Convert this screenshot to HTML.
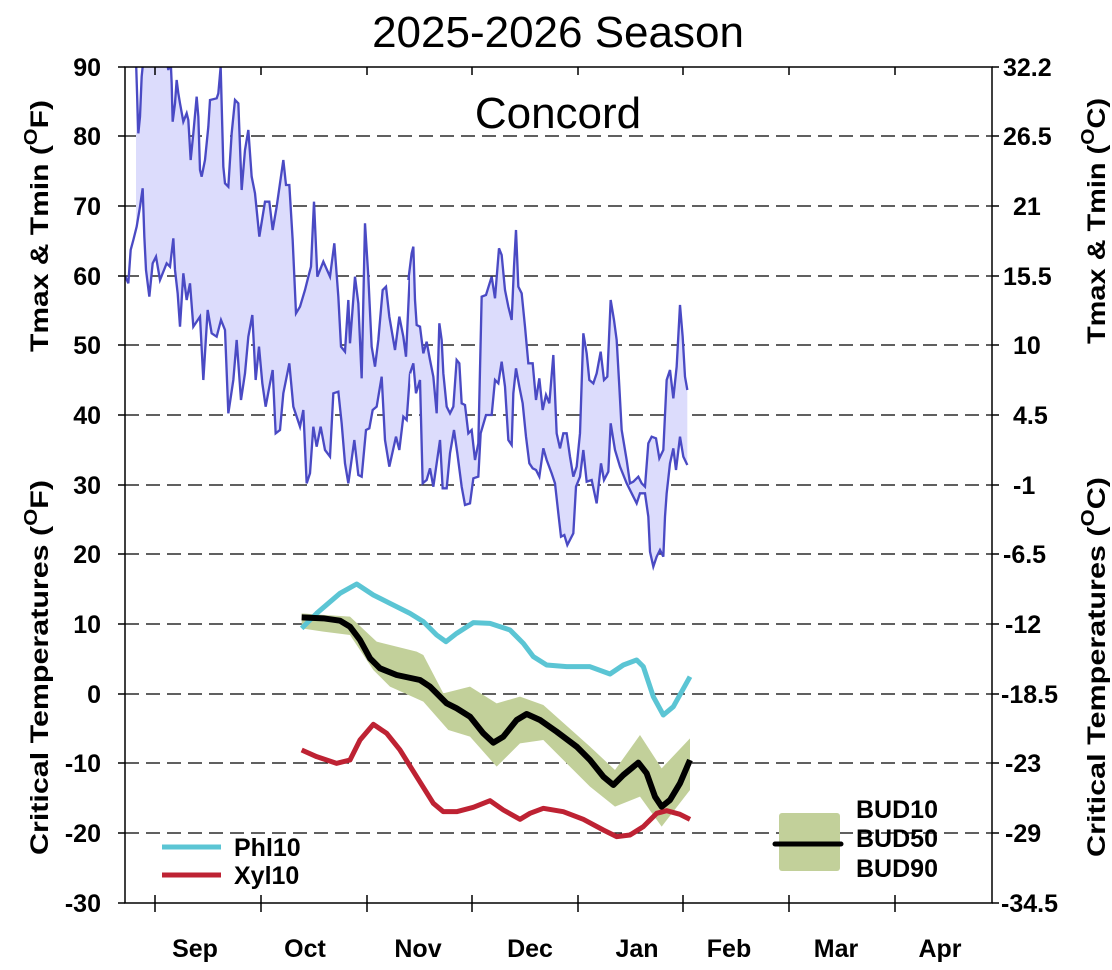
<!DOCTYPE html>
<html><head><meta charset="utf-8"><style>
html,body{margin:0;padding:0;background:#fff;}
svg{display:block;font-family:"Liberation Sans",Arial,sans-serif;}
.t{font-weight:bold;font-size:25px;}
</style></head><body>
<svg width="1112" height="970" viewBox="0 0 1112 970" xmlns="http://www.w3.org/2000/svg">
<rect width="1112" height="970" fill="#fff"/>
<g stroke="#000" stroke-width="1.3" stroke-dasharray="14,7">
<line x1="125" x2="992" y1="136" y2="136"/><line x1="125" x2="992" y1="206" y2="206"/>
<line x1="125" x2="992" y1="276" y2="276"/><line x1="125" x2="992" y1="345" y2="345"/>
<line x1="125" x2="992" y1="415" y2="415"/><line x1="125" x2="992" y1="485" y2="485"/>
<line x1="125" x2="992" y1="554" y2="554"/><line x1="125" x2="992" y1="624" y2="624"/>
<line x1="125" x2="992" y1="694" y2="694"/><line x1="125" x2="992" y1="763" y2="763"/>
<line x1="125" x2="992" y1="833" y2="833"/>
</g>
<defs><clipPath id="pc"><rect x="125" y="67" width="867" height="836"/></clipPath></defs>
<g clip-path="url(#pc)">
<g transform="translate(110,50) scale(0.33333)">
<polygon fill="#dcdcfc" stroke="none" points="78,30 85,250 90,200 95,80 100,30 170,30 175,60 182,30 185,100 188,215 195,160 200,90 205,130 210,160 220,215 230,190 235,210 242,330 250,250 260,140 265,200 270,360 275,380 285,330 295,230 300,150 320,145 325,130 332,50 340,350 345,400 355,410 365,250 375,150 385,160 395,420 405,300 415,240 425,380 435,430 448,560 465,455 478,455 488,540 500,470 510,400 520,330 528,405 538,405 548,570 558,790 570,770 585,720 595,680 603,650 612,455 622,680 640,635 660,680 673,580 685,740 693,890 705,905 715,750 720,880 735,680 745,760 755,985 765,520 775,680 785,890 795,950 805,870 818,720 828,710 838,800 855,900 868,800 880,860 888,920 900,660 900,970 890,1110 880,1100 868,1200 858,1160 838,1250 825,1170 815,980 800,1070 788,1080 778,1135 768,1140 755,1280 745,1275 733,1170 715,1300 705,1240 695,1120 685,1025 670,1030 660,1220 645,1200 632,1130 620,1190 610,1130 600,1270 590,1300 580,1080 570,1130 550,1070 538,940 520,1030 510,1140 497,1150 488,960 480,1000 467,1070 457,1000 447,890 437,990 427,795 415,860 405,970 393,1050 380,870 370,990 355,1090 345,840 333,810 320,860 305,850 293,780 280,990 270,800 250,830 240,700 230,750 220,670 210,830 203,730 195,660 190,565 180,650 170,640 150,690 138,620 128,640 118,740 108,660 103,560 98,415 90,470 80,530 78,540"/>
<polyline fill="none" stroke="#4a4ac4" stroke-width="7" points="78,30 85,250 90,200 95,80 100,30 170,30 175,60 182,30 185,100 188,215 195,160 200,90 205,130 210,160 220,215 230,190 235,210 242,330 250,250 260,140 265,200 270,360 275,380 285,330 295,230 300,150 320,145 325,130 332,50 340,350 345,400 355,410 365,250 375,150 385,160 395,420 405,300 415,240 425,380 435,430 448,560 465,455 478,455 488,540 500,470 510,400 520,330 528,405 538,405 548,570 558,790 570,770 585,720 595,680 603,650 612,455 622,680 640,635 660,680 673,580 685,740 693,890 705,905 715,750 720,880 735,680 745,760 755,985 765,520 775,680 785,890 795,950 805,870 818,720 828,710 838,800 855,900 868,800 880,860 888,920 900,660"/>
<polyline fill="none" stroke="#4a4ac4" stroke-width="7" points="46,680 55,700 62,600 70,570 80,530 90,470 98,415 103,560 108,660 118,740 128,640 138,620 150,690 170,640 180,650 190,565 195,660 203,730 210,830 220,670 230,750 240,700 250,830 270,800 280,990 293,780 305,850 320,860 333,810 345,840 355,1090 370,990 380,870 393,1050 405,970 415,860 427,795 437,990 447,890 457,1000 467,1070 480,1000 488,960 497,1150 510,1140 520,1030 538,940 550,1070 570,1130 580,1080 590,1300 600,1270 610,1130 620,1190 632,1130 645,1200 660,1220 670,1030 685,1025 695,1120 705,1240 715,1300 733,1170 745,1275 755,1280 768,1140 778,1135 788,1080 800,1070 815,980 825,1170 838,1250 858,1160 868,1200 880,1100 890,1110 900,970"/>
</g>
<g transform="translate(400,200) scale(0.33333)">
<polygon fill="#dcdcfc" stroke="none" points="30,200 35,160 40,140 45,300 50,375 60,380 70,460 80,425 90,480 100,530 110,640 118,370 125,420 130,520 140,620 150,640 160,620 170,480 178,490 185,610 195,615 205,700 215,690 225,780 235,730 245,290 258,285 275,230 285,295 297,145 305,165 315,270 325,320 335,360 342,200 348,90 355,260 365,280 375,380 385,490 398,490 408,600 418,535 428,630 438,585 448,610 460,465 470,700 480,745 490,700 500,700 510,770 520,830 530,800 540,700 550,400 560,460 568,540 580,550 590,520 602,455 612,540 622,530 632,300 642,360 650,420 658,560 665,690 680,780 690,850 700,845 715,830 725,850 735,860 745,730 755,710 768,715 778,775 790,750 800,540 810,510 820,595 830,500 840,315 848,410 855,530 862,570 862,795 850,770 840,710 828,810 820,745 810,790 800,880 795,950 790,1070 780,1050 770,1070 760,1100 750,1055 745,950 735,880 720,880 710,910 695,880 680,850 660,800 645,750 632,670 625,815 612,840 603,790 590,910 575,840 560,845 550,750 540,830 528,860 520,1000 502,1035 493,1005 483,1010 475,940 465,850 455,820 440,780 430,745 418,830 408,810 398,805 388,790 378,710 368,610 358,560 348,505 340,580 335,735 325,720 315,560 305,485 295,550 285,540 275,645 258,645 242,700 235,830 220,835 210,910 195,915 185,860 172,760 162,690 150,760 140,865 128,865 120,720 110,790 100,860 90,805 80,840 68,850 60,540 48,580 40,490 30,560"/>
<polyline fill="none" stroke="#4a4ac4" stroke-width="7" points="25,240 35,160 40,140 45,300 50,375 60,380 70,460 80,425 90,480 100,530 110,640 118,370 125,420 130,520 140,620 150,640 160,620 170,480 178,490 185,610 195,615 205,700 215,690 225,780 235,730 245,290 258,285 275,230 285,295 297,145 305,165 315,270 325,320 335,360 342,200 348,90 355,260 365,280 375,380 385,490 398,490 408,600 418,535 428,630 438,585 448,610 460,465 470,700 480,745 490,700 500,700 510,770 520,830 530,800 540,700 550,400 560,460 568,540 580,550 590,520 602,455 612,540 622,530 632,300 642,360 650,420 658,560 665,690 680,780 690,850 700,845 715,830 725,850 735,860 745,730 755,710 768,715 778,775 790,750 800,540 810,510 820,595 830,500 840,315 848,410 855,530 862,570"/>
<polyline fill="none" stroke="#4a4ac4" stroke-width="7" points="30,520 40,490 48,580 60,540 68,850 80,840 90,805 100,860 110,790 120,720 128,865 140,865 150,760 162,690 172,760 185,860 195,915 210,910 220,835 235,830 242,700 258,645 275,645 285,540 295,550 305,485 315,560 325,720 335,735 340,580 348,505 358,560 368,610 378,710 388,790 398,805 408,810 418,830 430,745 440,780 455,820 465,850 475,940 483,1010 493,1005 502,1035 520,1000 528,860 540,830 550,750 560,845 575,840 590,910 603,790 612,840 625,815 632,670 645,750 660,800 680,850 695,880 710,910 720,880 735,880 745,950 750,1055 760,1100 770,1070 780,1050 790,1070 795,950 800,880 810,790 820,745 828,810 840,710 850,770 862,795"/>
</g>
<g transform="translate(290,570) scale(0.33333)">
<polygon fill="#c2d09a" points="35,130 60,132 180,140 260,215 380,245 400,255 460,370 540,350 620,400 690,380 760,405 900,530 975,600 1050,495 1115,595 1200,505 1200,660 1115,770 1050,680 975,710 900,650 760,510 690,520 620,590 540,500 475,480 400,395 300,350 250,300 180,195 100,185 35,175"/>
<polyline fill="none" stroke="#5bc5d4" stroke-width="15" stroke-linejoin="round" points="35,175 80,130 150,70 200,42 250,75 300,100 360,130 400,155 440,195 468,215 500,190 550,158 600,160 660,180 700,220 730,260 770,285 830,290 900,290 960,312 1000,285 1040,270 1060,290 1090,380 1120,435 1150,410 1200,320"/>
<polyline fill="none" stroke="#be2233" stroke-width="15" stroke-linejoin="round" points="35,540 80,560 140,580 180,570 210,510 250,463 290,490 330,540 380,620 430,700 460,725 500,725 550,712 600,692 640,720 690,748 720,730 760,715 820,725 880,748 940,780 980,800 1020,795 1060,770 1100,730 1130,722 1170,733 1200,748"/>
<polyline fill="none" stroke="#000" stroke-width="18" stroke-linejoin="round" points="35,142 100,145 150,152 180,170 210,210 240,265 270,295 320,315 390,330 420,350 470,400 500,415 540,440 580,490 610,518 640,500 680,450 710,432 750,450 800,485 860,530 900,570 940,620 970,645 1000,615 1045,578 1070,610 1095,680 1115,710 1140,690 1170,640 1200,570"/>
</g>
</g>
<g stroke="#000" stroke-width="1.5" fill="none">
<rect x="125" y="67" width="867" height="836"/>
<line x1="118" x2="125" y1="67" y2="67"/><line x1="118" x2="125" y1="136" y2="136"/><line x1="118" x2="125" y1="206" y2="206"/><line x1="118" x2="125" y1="276" y2="276"/><line x1="118" x2="125" y1="345" y2="345"/><line x1="118" x2="125" y1="415" y2="415"/><line x1="118" x2="125" y1="485" y2="485"/><line x1="118" x2="125" y1="554" y2="554"/><line x1="118" x2="125" y1="624" y2="624"/><line x1="118" x2="125" y1="694" y2="694"/><line x1="118" x2="125" y1="763" y2="763"/><line x1="118" x2="125" y1="833" y2="833"/><line x1="118" x2="125" y1="903" y2="903"/>
<line x1="992" x2="999" y1="67" y2="67"/><line x1="992" x2="999" y1="136" y2="136"/><line x1="992" x2="999" y1="206" y2="206"/><line x1="992" x2="999" y1="276" y2="276"/><line x1="992" x2="999" y1="345" y2="345"/><line x1="992" x2="999" y1="415" y2="415"/><line x1="992" x2="999" y1="485" y2="485"/><line x1="992" x2="999" y1="554" y2="554"/><line x1="992" x2="999" y1="624" y2="624"/><line x1="992" x2="999" y1="694" y2="694"/><line x1="992" x2="999" y1="763" y2="763"/><line x1="992" x2="999" y1="833" y2="833"/><line x1="992" x2="999" y1="903" y2="903"/>
<path d="M155 895V912M261 895V912M367 895V912M472 895V912M578 895V912M683 895V912M789 895V912M895 895V912"/>
<path d="M155 67V75M261 67V75M367 67V75M472 67V75M578 67V75M683 67V75M789 67V75M895 67V75"/>
</g>
<g class="t" text-anchor="end">
<text x="101" y="76">90</text><text x="101" y="145">80</text><text x="101" y="215">70</text><text x="101" y="285">60</text><text x="101" y="354">50</text><text x="101" y="424">40</text><text x="101" y="494">30</text><text x="101" y="563">20</text><text x="101" y="633">10</text><text x="101" y="703">0</text><text x="101" y="772">-10</text><text x="101" y="842">-20</text><text x="101" y="912">-30</text>
</g>
<g class="t" text-anchor="start">
<text x="1003" y="76">32.2</text><text x="1003" y="145">26.5</text><text x="1013" y="215">21</text><text x="1003" y="285">15.5</text><text x="1013" y="354">10</text><text x="1013" y="424">4.5</text><text x="1013" y="494">-1</text><text x="1003" y="563">-6.5</text><text x="1005" y="633">-12</text><text x="1001" y="703">-18.5</text><text x="1005" y="772">-23</text><text x="1005" y="842">-29</text><text x="1001" y="912">-34.5</text>
</g>
<g class="t" text-anchor="middle" font-size="27">
<text x="195" y="957">Sep</text><text x="305" y="957">Oct</text><text x="418" y="957">Nov</text><text x="530" y="957">Dec</text><text x="637" y="957">Jan</text><text x="729" y="957">Feb</text><text x="836" y="957">Mar</text><text x="940" y="957">Apr</text>
</g>
<text x="558" y="47" text-anchor="middle" font-size="44">2025-2026 Season</text>
<text x="558" y="128" text-anchor="middle" font-size="44">Concord</text>
<g class="t" font-size="26">
<text transform="translate(48,352) rotate(-90)" textLength="252" lengthAdjust="spacingAndGlyphs">Tmax &amp; Tmin (<tspan font-size="18" dy="-11">O</tspan><tspan dy="11">F)</tspan></text>
<text transform="translate(48,855) rotate(-90)" textLength="375" lengthAdjust="spacingAndGlyphs">Critical Temperatures (<tspan font-size="18" dy="-11">O</tspan><tspan dy="11">F)</tspan></text>
<text transform="translate(1105,344) rotate(-90)" textLength="246" lengthAdjust="spacingAndGlyphs">Tmax &amp; Tmin (<tspan font-size="18" dy="-11">O</tspan><tspan dy="11">C)</tspan></text>
<text transform="translate(1105,857) rotate(-90)" textLength="380" lengthAdjust="spacingAndGlyphs">Critical Temperatures (<tspan font-size="18" dy="-11">O</tspan><tspan dy="11">C)</tspan></text>
</g>
<line x1="162" x2="221" y1="847" y2="847" stroke="#5bc5d4" stroke-width="5"/>
<line x1="162" x2="221" y1="875" y2="875" stroke="#be2233" stroke-width="5"/>
<g class="t" font-size="21"><text x="234" y="856">Phl10</text><text x="234" y="884">Xyl10</text></g>
<rect x="779" y="813" width="61" height="58" rx="3" fill="#c2d09a"/>
<line x1="775" x2="841" y1="844" y2="844" stroke="#000" stroke-width="5" stroke-linecap="round"/>
<g class="t" font-size="21"><text x="856" y="818">BUD10</text><text x="856" y="847">BUD50</text><text x="856" y="877">BUD90</text></g>
</svg>
</body></html>
